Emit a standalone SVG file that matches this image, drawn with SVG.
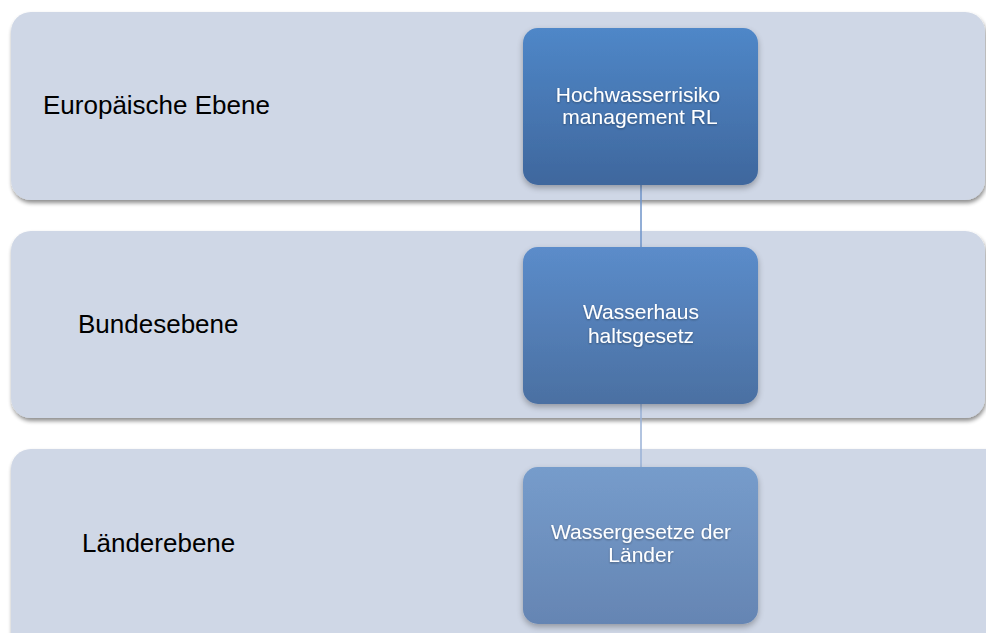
<svg xmlns="http://www.w3.org/2000/svg" width="986" height="633" viewBox="0 0 986 633">
<defs>
<filter id="bandShadow" x="-5%" y="-10%" width="110%" height="125%">
<feGaussianBlur in="SourceAlpha" stdDeviation="2"/>
<feOffset dx="1" dy="3" result="b"/>
<feComponentTransfer in="b" result="s"><feFuncA type="linear" slope="0.45"/></feComponentTransfer>
<feMerge><feMergeNode in="s"/><feMergeNode in="SourceGraphic"/></feMerge>
</filter>
<filter id="boxShadow" x="-10%" y="-10%" width="120%" height="125%">
<feGaussianBlur in="SourceAlpha" stdDeviation="3"/>
<feOffset dx="0" dy="3" result="b"/>
<feComponentTransfer in="b" result="s"><feFuncA type="linear" slope="0.3"/></feComponentTransfer>
<feMerge><feMergeNode in="s"/><feMergeNode in="SourceGraphic"/></feMerge>
</filter>
<filter id="textShadow" x="-10%" y="-30%" width="120%" height="160%">
<feGaussianBlur in="SourceAlpha" stdDeviation="1.2"/>
<feOffset dx="0" dy="1" result="b"/>
<feComponentTransfer in="b" result="s"><feFuncA type="linear" slope="0.35"/></feComponentTransfer>
<feMerge><feMergeNode in="s"/><feMergeNode in="SourceGraphic"/></feMerge>
</filter>
<linearGradient id="g1" x1="0" y1="0" x2="0" y2="1">
<stop offset="0" stop-color="#4f87c8"/><stop offset="1" stop-color="#3f679d"/>
</linearGradient>
<linearGradient id="g2" x1="0" y1="0" x2="0" y2="1">
<stop offset="0" stop-color="#5b8cca"/><stop offset="1" stop-color="#4b70a2"/>
</linearGradient>
<linearGradient id="g3" x1="0" y1="0" x2="0" y2="1">
<stop offset="0" stop-color="#769ccb"/><stop offset="1" stop-color="#6585b3"/>
</linearGradient>
</defs>
<style>
.band{fill:#cfd7e6;filter:url(#bandShadow)}
.lbl{font-family:"Liberation Sans",Arial,sans-serif;font-size:26px;fill:#000}
.box{filter:url(#boxShadow)}
.btxt{font-family:"Liberation Sans",Arial,sans-serif;font-size:21px;fill:#fff;text-anchor:middle;filter:url(#textShadow)}
.conn{stroke-width:1.5;fill:none}
</style>
<g id="band-eu">
<rect class="band" x="11" y="12" width="974" height="188" rx="20"/>
<text class="lbl" x="43" y="114">Europäische Ebene</text>
</g>
<g id="band-bund">
<rect class="band" x="11" y="231" width="974" height="187" rx="20"/>
<text class="lbl" x="78" y="333">Bundesebene</text>
</g>
<g id="band-laender">
<rect class="band" x="11" y="449" width="995" height="220" rx="20"/>
<text class="lbl" x="82" y="552">Länderebene</text>
</g>
<g id="connectors">
<line class="conn" stroke="#6e93c9" x1="641" y1="185" x2="641" y2="247"/>
<line class="conn" stroke="#98b0d6" x1="641" y1="404" x2="641" y2="467"/>
</g>
<g id="node-hwrm">
<rect class="box" x="523" y="28" width="235" height="157" rx="15" fill="url(#g1)"/>
<text class="btxt" x="638" y="102">Hochwasserrisiko</text>
<text class="btxt" x="640" y="124">management RL</text>
</g>
<g id="node-whg">
<rect class="box" x="523" y="247" width="235" height="157" rx="15" fill="url(#g2)"/>
<text class="btxt" x="641" y="319">Wasserhaus</text>
<text class="btxt" x="641" y="343">haltsgesetz</text>
</g>
<g id="node-wgl">
<rect class="box" x="523" y="467" width="235" height="157" rx="15" fill="url(#g3)"/>
<text class="btxt" x="641" y="539">Wassergesetze der</text>
<text class="btxt" x="641" y="562">Länder</text>
</g>
</svg>
